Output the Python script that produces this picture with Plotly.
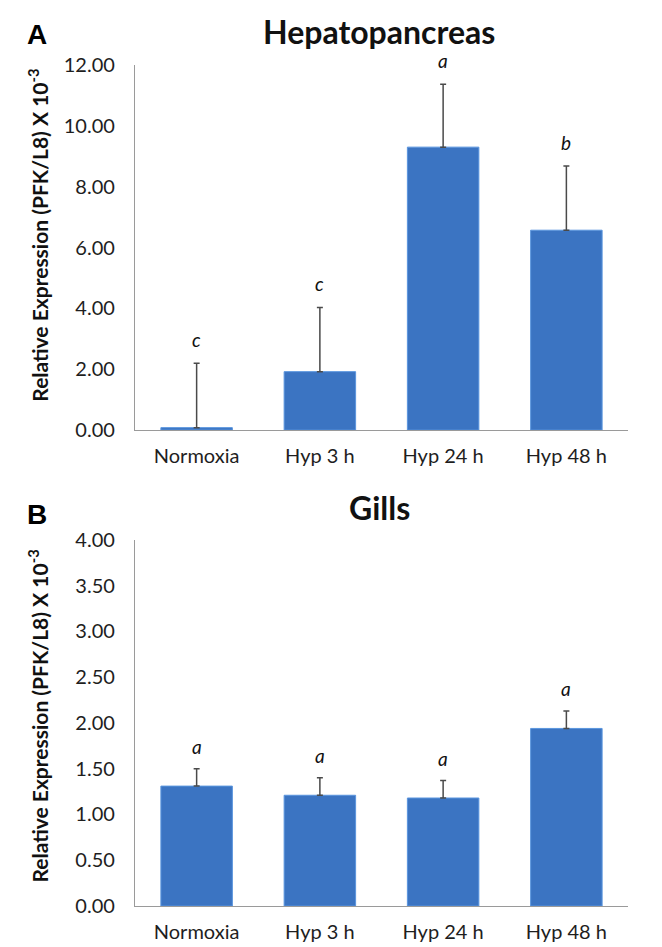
import plotly.graph_objects as go

categories = ["Normoxia", "Hyp 3 h", "Hyp 24 h", "Hyp 48 h"]

hepato_values = [0.08, 1.92, 9.30, 6.57]
hepato_errors = [2.12, 2.11, 2.07, 2.11]
hepato_letters = ["c", "c", "a", "b"]

gills_values = [1.31, 1.21, 1.18, 1.94]
gills_errors = [0.19, 0.19, 0.19, 0.19]
gills_letters = ["a", "a", "a", "a"]

hepato_ticks = [0, 2, 4, 6, 8, 10, 12]
gills_ticks = [0, 0.5, 1.0, 1.5, 2.0, 2.5, 3.0, 3.5, 4.0]

BAR_COLOR = "#3B74C2"
BAR_LINE = "#5A95DE"
AXIS_COLOR = "#9A9A9A"
TEXT_COLOR = "#1E1E1E"
FONT = "Lato"

fig = go.Figure()

fig.add_trace(go.Bar(
    x=categories, y=hepato_values, xaxis="x", yaxis="y",
    marker=dict(color=BAR_COLOR, line=dict(color=BAR_LINE, width=1)),
    error_y=dict(type="data", symmetric=False, array=hepato_errors,
                 arrayminus=[0] * len(hepato_errors),
                 color="#4A4A4A", thickness=1.5, width=3),
    showlegend=False, hoverinfo="x+y"))

fig.add_trace(go.Bar(
    x=categories, y=gills_values, xaxis="x2", yaxis="y2",
    marker=dict(color=BAR_COLOR, line=dict(color=BAR_LINE, width=1)),
    error_y=dict(type="data", symmetric=False, array=gills_errors,
                 arrayminus=[0] * len(gills_errors),
                 color="#4A4A4A", thickness=1.5, width=3),
    showlegend=False, hoverinfo="x+y"))

annotations = []
for cat, v, e, l in zip(categories, hepato_values, hepato_errors, hepato_letters):
    annotations.append(dict(x=cat, y=v + e, xref="x", yref="y", text=f"<i>{l}</i>",
                            showarrow=False, yanchor="bottom", yshift=10,
                            font=dict(family=FONT, size=19, color="#111")))
for cat, v, e, l in zip(categories, gills_values, gills_errors, gills_letters):
    annotations.append(dict(x=cat, y=v + e, xref="x2", yref="y2", text=f"<i>{l}</i>",
                            showarrow=False, yanchor="bottom", yshift=9,
                            font=dict(family=FONT, size=19, color="#111")))

ytitle = "Relative Expression (PFK/L8) X 10<sup>-3</sup>"
for xr, yr, yc in [("x domain", "y domain", 0.535), ("x2 domain", "y2 domain", 0.52)]:
    annotations.append(dict(x=-0.197, y=yc, xref=xr, yref=yr, text=f"<b>{ytitle}</b>",
                            textangle=-90, showarrow=False, xanchor="center", yanchor="middle",
                            font=dict(family=FONT, size=21, color="#111")))

annotations += [
    dict(x=0.495, y=1.04, xref="paper", yref="paper", text="<b>Hepatopancreas</b>",
         showarrow=False, xanchor="center", yanchor="middle",
         font=dict(family=FONT, size=32, color="#111")),
    dict(x=0.495, y=0.474, xref="paper", yref="paper", text="<b>Gills</b>",
         showarrow=False, xanchor="center", yanchor="middle",
         font=dict(family=FONT, size=32, color="#111")),
    dict(x=-0.1988, y=1.0365, xref="paper", yref="paper", text="<b>A</b>",
         showarrow=False, xanchor="center", yanchor="middle",
         font=dict(family="Liberation Sans", size=28, color="#000")),
    dict(x=-0.1988, y=0.4659, xref="paper", yref="paper", text="<b>B</b>",
         showarrow=False, xanchor="center", yanchor="middle",
         font=dict(family="Liberation Sans", size=28, color="#000")),
]

xaxis_common = dict(showline=True, linecolor=AXIS_COLOR, linewidth=1.2, showgrid=False,
                    ticks="outside", ticklen=8, tickcolor="rgba(0,0,0,0)",
                    tickfont=dict(family=FONT, size=20, color=TEXT_COLOR), zeroline=False)
yaxis_common = dict(showline=True, linecolor=AXIS_COLOR, linewidth=1.2, showgrid=False,
                    ticks="outside", ticklen=15, tickcolor="rgba(0,0,0,0)",
                    tickfont=dict(family=FONT, size=20, color=TEXT_COLOR), zeroline=False,
                    tickformat=".2f")

fig.update_layout(
    width=662, height=947,
    margin=dict(l=127, r=42, t=57, b=40),
    paper_bgcolor="white", plot_bgcolor="white",
    bargap=0.42,
    xaxis=dict(domain=[0, 1], anchor="y", **xaxis_common),
    yaxis=dict(domain=[0.5659, 1.0], anchor="x", range=[0, 12], tickvals=hepato_ticks,
               **yaxis_common),
    xaxis2=dict(domain=[0, 1], anchor="y2", **xaxis_common),
    yaxis2=dict(domain=[0.0, 0.4353], anchor="x2", range=[0, 4], tickvals=gills_ticks,
                **yaxis_common),
    annotations=annotations,
)

fig.write_html("out.html")
